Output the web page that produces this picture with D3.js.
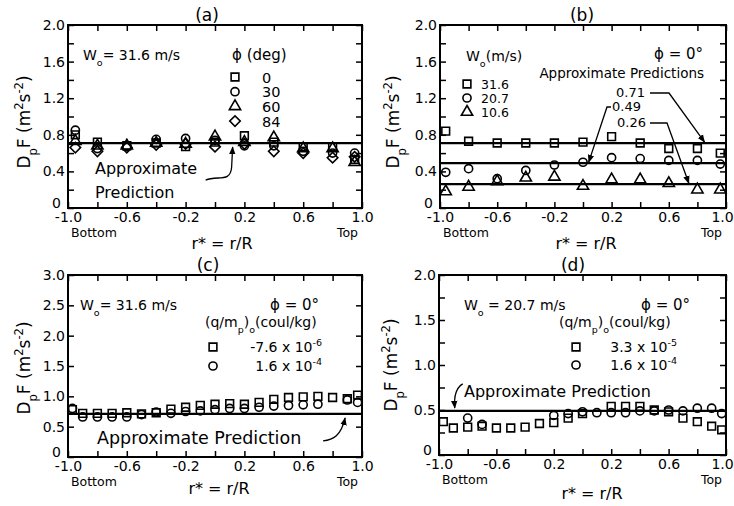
<!DOCTYPE html>
<html>
<head>
<meta charset="utf-8">
<script src="https://cdn.jsdelivr.net/npm/d3@7"></script>
<style>
body { margin: 0; background: #fff; }
text { font-family: "DejaVu Sans", sans-serif; fill: #000; }
</style>
</head>
<body>
<script>
// tick values and labels
var xTickVals = [-1, -0.8, -0.6, -0.4, -0.2, 0, 0.2, 0.4, 0.6, 0.8, 1];
var xTickText = ["-1.0", "", "-0.6", "", "-0.2", "", "0.2", "", "0.6", "", "1.0"];
var xTickTextD = ["-1.0", "", "-0.6", "", "0.2", "", "0.2", "", "0.6", "", "1.0"];
var yTickValsAB = [0, 0.2, 0.4, 0.6, 0.8, 1.0, 1.2, 1.4, 1.6, 1.8, 2.0];
var yTickTextAB = ["0", "", "0.4", "", "0.8", "", "1.2", "", "1.6", "", "2.0"];
var yTickValsC = [0, 0.5, 1.0, 1.5, 2.0, 2.5, 3.0];
var yTickTextC = ["0", "0.5", "1.0", "1.5", "2.0", "2.5", "3.0"];
var yTickValsD = [0, 0.25, 0.5, 0.75, 1.0, 1.25, 1.5, 1.75, 2.0];
var yTickTextD = ["0", "", "0.5", "", "1.0", "", "1.5", "", "2.0"];

// (a) W0 = 31.6 m/s, by phi (deg)
var rA = [-0.95, -0.8, -0.6, -0.4, -0.2, 0, 0.2, 0.4, 0.6, 0.8, 0.95];
var aPhi0 = [0.80, 0.72, 0.68, 0.71, 0.67, 0.72, 0.79, 0.72, 0.67, 0.67, 0.53];
var aPhi30 = [0.85, 0.65, 0.67, 0.75, 0.76, 0.74, 0.68, 0.68, 0.62, 0.60, 0.60];
var aPhi60 = [0.73, 0.68, 0.68, 0.71, 0.70, 0.78, 0.72, 0.77, 0.65, 0.65, 0.50];
var aPhi84 = [0.66, 0.62, 0.66, 0.69, 0.70, 0.67, 0.70, 0.62, 0.60, 0.55, 0.56];
var predA = 0.71;

// (b) phi = 0, by W0 (m/s)
var rB = [-0.96, -0.8, -0.6, -0.4, -0.2, 0, 0.2, 0.4, 0.6, 0.8, 0.96];
var b316 = [0.84, 0.73, 0.71, 0.71, 0.71, 0.72, 0.78, 0.71, 0.65, 0.65, 0.60];
var b207 = [0.39, 0.43, 0.32, 0.41, 0.47, 0.50, 0.55, 0.54, 0.52, 0.52, 0.48];
var b106 = [0.18, 0.23, 0.29, 0.33, 0.34, 0.24, 0.31, 0.31, 0.27, 0.20, 0.20];
var predB = [0.71, 0.49, 0.26];

// (c) W0 = 31.6 m/s, by charge
var rC = [-0.97, -0.9, -0.8, -0.7, -0.6, -0.5, -0.4, -0.3, -0.2, -0.1, 0, 0.1, 0.2, 0.3, 0.4, 0.5, 0.6, 0.7, 0.8, 0.9, 0.97];
var cNeg = [0.78, 0.72, 0.72, 0.72, 0.73, 0.71, 0.73, 0.79, 0.82, 0.85, 0.87, 0.88, 0.87, 0.90, 0.95, 0.98, 0.99, 1.00, 0.98, 0.96, 1.02];
var cPos = [0.80, 0.66, 0.66, 0.66, 0.66, 0.70, 0.74, 0.72, 0.75, 0.76, 0.78, 0.80, 0.80, 0.82, 0.84, 0.85, 0.86, 0.87, null, 0.94, 0.90];
var predC = 0.71;

// (d) W0 = 20.7 m/s, by charge
var rD = [-0.97, -0.9, -0.8, -0.7, -0.6, -0.5, -0.4, -0.3, -0.2, -0.1, 0, 0.1, 0.2, 0.3, 0.4, 0.5, 0.6, 0.7, 0.8, 0.9, 0.97];
var dLow = [0.37, 0.30, 0.31, 0.32, 0.30, 0.30, 0.31, 0.35, 0.36, 0.41, 0.46, null, 0.54, 0.54, 0.54, 0.50, 0.48, 0.41, 0.37, 0.32, 0.28];
var dHigh = [null, null, 0.41, 0.34, null, null, null, null, 0.44, 0.46, 0.48, 0.47, 0.47, 0.47, 0.49, 0.49, 0.50, 0.49, 0.52, 0.52, 0.46];
var predD = 0.49;

var svg = d3.select("body").append("svg")
    .attr("width", 734)
    .attr("height", 506)
    .style("background-color", "white");

svg.append("defs").append("marker")
    .attr("id", "arr")
    .attr("viewBox", "0 0 10 10")
    .attr("refX", 9).attr("refY", 5)
    .attr("markerWidth", 8).attr("markerHeight", 8)
    .attr("markerUnits", "userSpaceOnUse")
    .attr("orient", "auto")
    .append("path").attr("d", "M0,1 L10,5 L0,9 Z").attr("fill", "black");

// text with sub (1) / super (-1) parts
function rich(g, x, y, parts, size, anchor) {
    var t = g.append("text").attr("x", x).attr("y", y)
        .attr("text-anchor", anchor || "start")
        .style("font-size", size + "px");
    var cur = 0;
    parts.forEach(function(p) {
        var s = p[1] || 0;
        var off = s * size * 0.4;
        var ts = t.append("tspan").text(p[0]).attr("dy", off - cur);
        if (s) ts.style("font-size", (size * 0.68) + "px");
        cur = off;
    });
    return t;
}

var symSize = { square: 60, circle: 52, triangle: 55, diamond: 55 };
var symType = { square: d3.symbolSquare, circle: d3.symbolCircle, triangle: d3.symbolTriangle, diamond: d3.symbolSquare };

function marker(g, shape, cx, cy) {
    var rot = shape === "diamond" ? " rotate(45)" : "";
    return g.append("path")
        .attr("d", d3.symbol().type(symType[shape]).size(symSize[shape])())
        .attr("transform", "translate(" + cx + "," + cy + ")" + rot)
        .attr("fill", "none").attr("stroke", "black").attr("stroke-width", 1.6);
}

function panel(o) {
    var x = d3.scaleLinear().domain([-1, 1]).range([o.left, o.right]);
    var y = d3.scaleLinear().domain([0, o.yMax]).range([o.bottom, o.top]);
    var g = svg.append("g");

    function styleAxis(a) {
        a.select(".domain").remove();
        a.selectAll(".tick line").attr("stroke-width", 1.5);
        a.selectAll("text").attr("font-family", "DejaVu Sans").attr("font-size", 14).attr("fill", "black");
    }

    var xb = g.append("g").attr("transform", "translate(0," + o.bottom + ")")
        .call(d3.axisBottom(x).tickValues(xTickVals).tickSize(-6).tickPadding(4)
            .tickFormat(function(d, i) { return o.xText[i]; }))
        .call(styleAxis);
    // last label sits at the page edge, pull it in a little
    xb.selectAll(".tick text").filter(function(d) { return d === 1; }).attr("dx", o.lastDx || 0);
    g.append("g").attr("transform", "translate(0," + o.top + ")")
        .call(d3.axisTop(x).tickValues(xTickVals).tickSize(-6).tickFormat(""))
        .call(styleAxis);
    var yl = g.append("g").attr("transform", "translate(" + o.left + ",0)")
        .call(d3.axisLeft(y).tickValues(o.yVals).tickSize(-6).tickPadding(3)
            .tickFormat(function(d, i) { return o.yText[i]; }))
        .call(styleAxis);
    yl.selectAll(".tick text").filter(function(d) { return d === 0; })
        .attr("dx", -4).attr("dy", "-0.05em");
    g.append("g").attr("transform", "translate(" + o.right + ",0)")
        .call(d3.axisRight(y).tickValues(o.yVals).tickSize(-6).tickFormat(""))
        .call(styleAxis);

    g.append("rect")
        .attr("x", o.left).attr("y", o.top)
        .attr("width", o.right - o.left).attr("height", o.bottom - o.top)
        .attr("fill", "none").attr("stroke", "black").attr("stroke-width", 2);

    o.pred.forEach(function(v) {
        g.append("line")
            .attr("x1", x(-1)).attr("x2", x(1))
            .attr("y1", y(v)).attr("y2", y(v))
            .attr("stroke", "black").attr("stroke-width", 2.2);
    });

    o.series.forEach(function(s) {
        s.values.forEach(function(v, i) {
            if (v == null) return;
            marker(g, s.shape, x(s.r[i]), y(v));
        });
    });

    // labels
    g.append("text").attr("x", o.titleX).attr("y", o.top - 4).attr("text-anchor", "middle")
        .style("font-size", "17px").text(o.title);
    g.append("text").attr("x", o.xLabelX).attr("y", o.xLabelY).attr("text-anchor", "middle")
        .style("font-size", "16px").text("r* = r/R");
    g.append("text").attr("x", o.left + 3).attr("y", o.bottom + 29)
        .style("font-size", "12.5px").text("Bottom");
    g.append("text").attr("x", o.right - 4).attr("y", o.bottom + 29).attr("text-anchor", "end")
        .style("font-size", "12.5px").text("Top");
    var ya = svg.append("g").attr("transform", "translate(" + o.yLabelX + "," + o.yLabelY + ") rotate(-90)");
    rich(ya, 0, 0, [["D", 0], ["p", 1], ["F (m", 0], ["2", -1], ["s", 0], ["-2", -1], [")", 0]], 17, "middle");

    o.extra(g, x, y);
}

function arrowPath(g, d) {
    g.append("path").attr("d", d).attr("fill", "none").attr("stroke", "black")
        .attr("stroke-width", 1.3).attr("marker-end", "url(#arr)");
}

panel({
    left: 68, right: 362, top: 25, bottom: 208, yMax: 2.0,
    xText: xTickText, yVals: yTickValsAB, yText: yTickTextAB,
    pred: [predA], title: "(a)", titleX: 207, xLabelX: 222, xLabelY: 249,
    yLabelX: 30, yLabelY: 122,
    series: [
        { shape: "square", r: rA, values: aPhi0 },
        { shape: "circle", r: rA, values: aPhi30 },
        { shape: "triangle", r: rA, values: aPhi60 },
        { shape: "diamond", r: rA, values: aPhi84 }
    ],
    extra: function(g, x, y) {
        var L = 68, T = 25;
        rich(g, L + 15, T + 35, [["W", 0], ["o", 1], ["= 31.6 m/s", 0]], 14);
        rich(g, L + 164, T + 35, [["ϕ", 0], [" (deg)", 0]], 15);
        var rows = [["square", "0"], ["circle", "30"], ["triangle", "60"], ["diamond", "84"]];
        rows.forEach(function(r, i) {
            var cy = T + 52 + i * 14.7;
            marker(g, r[0], L + 167, cy);
            g.append("text").attr("x", L + 194).attr("y", cy + 5.5).style("font-size", "14.5px").text(r[1]);
        });
        g.append("text").attr("x", L + 27).attr("y", T + 149).style("font-size", "16px").text("Approximate");
        g.append("text").attr("x", L + 27).attr("y", T + 173).style("font-size", "16px").text("Prediction");
        var tx = x(0.12), ty = y(predA) + 4;
        arrowPath(g, "M" + (tx - 27) + "," + (ty + 33) + " C" + (tx - 15) + "," + (ty + 28) + " " +
            (tx - 2) + "," + (ty + 36) + " " + (tx - 1) + "," + (ty + 20) + " L" + tx + "," + ty);
    }
});

panel({
    left: 440, right: 726, top: 25, bottom: 208, yMax: 2.0, lastDx: -4,
    xText: xTickText, yVals: yTickValsAB, yText: yTickTextAB,
    pred: predB, title: "(b)", titleX: 582, xLabelX: 586, xLabelY: 249,
    yLabelX: 399, yLabelY: 122,
    series: [
        { shape: "square", r: rB, values: b316 },
        { shape: "circle", r: rB, values: b207 },
        { shape: "triangle", r: rB, values: b106 }
    ],
    extra: function(g, x, y) {
        var L = 440, T = 25;
        rich(g, L + 26, T + 36, [["W", 0], ["o", 1], ["(m/s)", 0]], 14);
        var rows = [["square", "31.6"], ["circle", "20.7"], ["triangle", "10.6"]];
        rows.forEach(function(r, i) {
            var cy = T + 59 + i * 14;
            marker(g, r[0], L + 27, cy);
            g.append("text").attr("x", L + 41).attr("y", cy + 4.5).style("font-size", "12.5px").text(r[1]);
        });
        rich(g, L + 214, T + 34, [["ϕ", 0], [" = 0°", 0]], 15);
        g.append("text").attr("x", L + 264).attr("y", T + 53).attr("text-anchor", "end")
            .style("font-size", "13.5px").text("Approximate Predictions");
        g.append("text").attr("x", L + 176).attr("y", T + 72).style("font-size", "13px").text("0.71");
        g.append("text").attr("x", L + 172).attr("y", T + 86).style("font-size", "13px").text("0.49");
        g.append("text").attr("x", L + 177).attr("y", T + 102).style("font-size", "13px").text("0.26");
        var t1x = x(0.85), t1y = y(predB[0]) - 1;
        arrowPath(g, "M" + (L + 210) + "," + (T + 68) + " L" + (L + 229) + "," + (T + 68) + " L" + t1x + "," + t1y);
        var t2x = x(0.04), t2y = y(predB[1]) - 1;
        arrowPath(g, "M" + (L + 171) + "," + (T + 82) + " L" + (L + 167) + "," + (T + 82) + " L" + t2x + "," + t2y);
        var t3x = x(0.74), t3y = y(predB[2]) - 1;
        arrowPath(g, "M" + (L + 210) + "," + (T + 98) + " L" + (L + 227) + "," + (T + 98) + " L" + t3x + "," + t3y);
    }
});

panel({
    left: 68, right: 362, top: 275, bottom: 457, yMax: 3.0,
    xText: xTickText, yVals: yTickValsC, yText: yTickTextC,
    pred: [predC], title: "(c)", titleX: 208, xLabelX: 219, xLabelY: 494,
    yLabelX: 30, yLabelY: 368,
    series: [
        { shape: "square", r: rC, values: cNeg },
        { shape: "circle", r: rC, values: cPos }
    ],
    extra: function(g, x, y) {
        var L = 68, T = 275;
        rich(g, L + 12, T + 35, [["W", 0], ["o", 1], ["= 31.6 m/s", 0]], 14);
        rich(g, L + 202, T + 35, [["ϕ", 0], [" = 0°", 0]], 15);
        rich(g, L + 137, T + 52, [["(q/m", 0], ["p", 1], [")", 0], ["o", 1], ["(coul/kg)", 0]], 14);
        marker(g, "square", L + 145, T + 72);
        marker(g, "circle", L + 145, T + 91);
        rich(g, L + 254, T + 77, [["-7.6 x 10", 0], ["-6", -1]], 14, "end");
        rich(g, L + 254, T + 96, [["1.6 x 10", 0], ["-4", -1]], 14, "end");
        g.append("text").attr("x", L + 29).attr("y", T + 169).style("font-size", "17.5px").text("Approximate Prediction");
        var tx = x(0.885), ty = y(predC) + 4;
        arrowPath(g, "M" + (tx - 22) + "," + (ty + 23) + " C" + (tx - 12) + "," + (ty + 22) + " " +
            (tx - 4) + "," + (ty + 18) + " " + tx + "," + ty);
    }
});

panel({
    left: 439, right: 726, top: 275, bottom: 455, yMax: 2.0, lastDx: -4,
    xText: xTickTextD, yVals: yTickValsD, yText: yTickTextD,
    pred: [predD], title: "(d)", titleX: 573, xLabelX: 592, xLabelY: 499,
    yLabelX: 397, yLabelY: 365,
    series: [
        { shape: "square", r: rD, values: dLow },
        { shape: "circle", r: rD, values: dHigh }
    ],
    extra: function(g, x, y) {
        var L = 439, T = 275;
        rich(g, L + 25, T + 35, [["W", 0], ["o", 1], [" = 20.7 m/s", 0]], 14);
        rich(g, L + 202, T + 35, [["ϕ", 0], [" = 0°", 0]], 15);
        rich(g, L + 120, T + 52, [["(q/m", 0], ["p", 1], [")", 0], ["o", 1], ["(coul/kg)", 0]], 14);
        marker(g, "square", L + 137, T + 72);
        marker(g, "circle", L + 137, T + 90);
        rich(g, L + 238, T + 77, [["3.3 x 10", 0], ["-5", -1]], 14, "end");
        rich(g, L + 238, T + 95, [["1.6 x 10", 0], ["-4", -1]], 14, "end");
        g.append("text").attr("x", L + 25).attr("y", T + 122).style("font-size", "16px").text("Approximate Prediction");
        var tx = x(-0.89), ty = y(predD) - 3;
        arrowPath(g, "M" + (tx + 8) + "," + (ty - 24) + " C" + (tx + 1) + "," + (ty - 20) + " " +
            (tx - 1) + "," + (ty - 12) + " " + tx + "," + ty);
    }
});
</script>
</body>
</html>
